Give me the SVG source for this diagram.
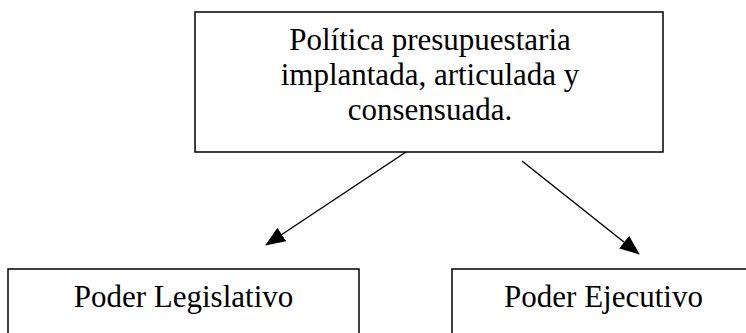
<svg xmlns="http://www.w3.org/2000/svg" width="746" height="333" viewBox="0 0 746 333">
<defs>
<style>
.box{fill:#fff;stroke:#000;stroke-width:1.5}
.t{font-family:"Liberation Serif","Times New Roman",serif;font-size:31px;fill:#000;text-anchor:middle}
.c{stroke:#000;stroke-width:1.5;fill:none}
</style>
<marker id="ah" markerWidth="20" markerHeight="16" refX="19" refY="8" orient="auto" markerUnits="userSpaceOnUse">
<path d="M0,0 L20,8 L0,16 Z" fill="#000"/>
</marker>
</defs>
<rect width="746" height="333" fill="#fff"/>
<g id="top">
<rect class="box" x="195" y="12" width="468" height="140"/>
<text class="t" x="430" y="50">Política presupuestaria</text>
<text class="t" x="430" y="85">implantada, articulada y</text>
<text class="t" x="430" y="120">consensuada.</text>
</g>
<g id="legislativo">
<rect class="box" x="8" y="269" width="351" height="80"/>
<text class="t" x="183.5" y="307">Poder Legislativo</text>
</g>
<g id="ejecutivo">
<rect class="box" x="452" y="269" width="303" height="80"/>
<text class="t" x="603.5" y="307">Poder Ejecutivo</text>
</g>
<g id="connectors">
<line class="c" x1="406" y1="152" x2="266" y2="245" marker-end="url(#ah)"/>
<line class="c" x1="522" y1="161" x2="639" y2="254" marker-end="url(#ah)"/>
</g>
</svg>
